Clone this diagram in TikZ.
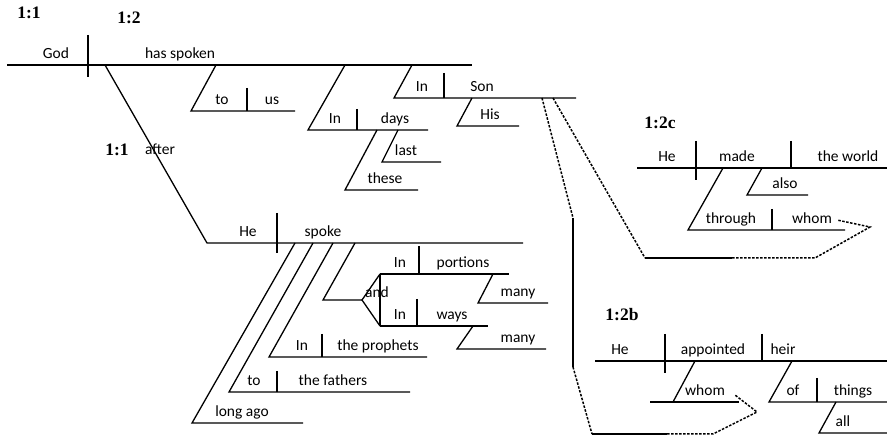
\documentclass[tikz,border=0pt]{standalone}
\usepackage{fontspec}
\setmainfont{Carlito}
\newfontfamily\versefont{Liberation Serif}
\tikzset{
  word/.style={anchor=base,inner sep=0pt,font=\fontsize{15.5}{17}\selectfont},
  verse/.style={inner sep=0pt,font=\versefont\bfseries\fontsize{17.5}{19}\selectfont},
  gap/.style={dash pattern=on 2.5pt off 1.5pt,line width=1.5pt},
  every path/.style={line width=1.3pt}
}
\begin{document}
\begin{tikzpicture}[x=1pt,y=1pt]
\useasboundingbox (0,0) rectangle (887,-438);
\node[verse] (v11) at (29,-13) {1:1};
\node[verse] (v12) at (129,-18) {1:2};
\draw [black] (7,-65) -- (472,-65);
\draw [black] (88,-35) -- (88,-77);
\node[word] (god) at (56,-59) {God};
\node[word] (spoken) at (180,-59) {has spoken};
\draw [black] (216,-65) -- (191,-111) -- (295,-111);
\draw [black] (247,-88) -- (247,-111);
\node[word] (to1) at (222,-105) {to};
\node[word] (us) at (272,-105) {us};
\draw [black] (345,-65) -- (308,-130) -- (428,-130);
\draw [black] (357,-109) -- (357,-130);
\node[word] (in1) at (335,-124) {In};
\node[word] (days) at (395,-124) {days};
\draw [black] (398,-130) -- (382,-162) -- (441,-162);
\node[word] (last) at (406,-156) {last};
\draw [black] (377,-130) -- (345,-190) -- (418,-190);
\node[word] (these) at (385,-184) {these};
\draw [black] (412,-65) -- (394,-98) -- (576,-98);
\draw [black] (444,-73) -- (444,-98);
\node[word] (in2) at (422,-92) {In};
\node[word] (son) at (482,-92) {Son};
\draw [black] (472,-98) -- (457,-126) -- (519,-126);
\node[word] (his) at (490,-120) {His};
% after ... He spoke
\draw [black] (105,-65) -- (207,-243) -- (523,-243);
\node[verse] (v11b) at (117,-150) {1:1};
\node[word] (after) at (160,-155) {after};
\draw [black] (277,-213) -- (277,-253);
\node[word] (he1) at (248,-237) {He};
\node[word] (spoke) at (323,-237) {spoke};
\draw [black] (295,-243) -- (192,-423) -- (303,-423);
\node[word] (longago) at (242,-417) {long ago};
\draw [black] (313,-243) -- (229,-392) -- (410,-392);
\draw [black] (277,-371) -- (277,-392);
\node[word] (to2) at (254,-386) {to};
\node[word] (fathers) at (333,-386) {the fathers};
\draw [black] (333,-243) -- (269,-357) -- (427,-357);
\draw [black] (322,-334) -- (322,-357);
\node[word] (in3) at (302,-351) {In};
\node[word] (prophets) at (378,-351) {the prophets};
\draw [black] (355,-243) -- (323,-300) -- (362,-300);
\draw [black] (380,-274) -- (362,-300) -- (380,-326);
\draw [black] (380,-274) -- (380,-326);
\node[word] (and) at (377,-298) {and};
\draw [black] (380,-274) -- (509,-274);
\draw [black] (419,-246) -- (419,-274);
\node[word] (in4) at (400,-268) {In};
\node[word] (portions) at (463,-268) {portions};
\draw [black] (493,-274) -- (478,-303) -- (548,-303);
\node[word] (many1) at (518,-297) {many};
\draw [black] (380,-326) -- (488,-326);
\draw [black] (417,-299) -- (417,-326);
\node[word] (in5) at (400,-320) {In};
\node[word] (ways) at (452,-320) {ways};
\draw [black] (473,-326) -- (457,-349) -- (546,-349);
\node[word] (many2) at (518,-343) {many};
% 1:2c
\node[verse] (v12c) at (660,-123) {1:2c};
\draw [black] (637,-168) -- (887,-168);
\draw [black] (696,-141) -- (696,-180);
\draw [black] (791,-141) -- (791,-168);
\node[word] (he2) at (667,-162) {He};
\node[word] (made) at (737,-162) {made};
\node[word] (world) at (848,-162) {the world};
\draw [black] (762,-168) -- (747,-195) -- (808,-195);
\node[word] (also) at (785,-189) {also};
\draw [black] (723,-168) -- (688,-230) -- (845,-230);
\draw [black] (772,-209) -- (772,-230);
\node[word] (through) at (731,-224) {through};
\node[word] (whom1) at (812,-224) {whom};
\draw [black,gap] (553,-98) -- (645,-258);
\draw [black] (645,-258) -- (732,-258);
\draw [black,gap] (732,-258) -- (815,-258) -- (870,-227) -- (837,-220);
% 1:2b
\node[verse] (v12b) at (622,-315) {1:2b};
\draw [black] (595,-361) -- (887,-361);
\draw [black] (665,-334) -- (665,-373);
\draw [black] (762,-334) -- (762,-361);
\node[word] (he3) at (620,-355) {He};
\node[word] (appointed) at (713,-355) {appointed};
\node[word] (heir) at (783,-355) {heir};
\draw [black] (695,-361) -- (673,-402);
\draw [black] (650,-402) -- (739,-402);
\node[word] (whom2) at (705,-396) {whom};
\draw [black] (792,-361) -- (769,-402) -- (887,-402);
\draw [black] (817,-378) -- (817,-402);
\node[word] (of) at (793,-396) {of};
\node[word] (things) at (853,-396) {things};
\draw [black] (836,-402) -- (819,-433) -- (887,-433);
\node[word] (all) at (843,-427) {all};
\draw [black,gap] (542,-98) -- (573,-218);
\draw [black] (573,-218) -- (573,-367);
\draw [black,gap] (573,-367) -- (592,-434);
\draw [black] (592,-434) -- (667,-434);
\draw [black,gap] (667,-434) -- (713,-434) -- (757,-412) -- (735,-395);
\end{tikzpicture}
\end{document}
